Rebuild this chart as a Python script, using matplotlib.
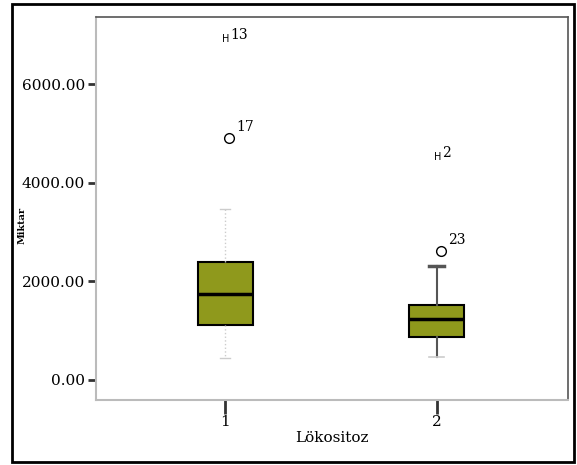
import matplotlib
matplotlib.use("Agg")
import matplotlib.pyplot as plt
from matplotlib.patches import Rectangle

# values
groups = ["1", "2"]
q1 = [1115, 872]
med = [1745, 1237]
q3 = [2393, 1521]
whislo = [446, 466]
whishi = [3470, 2312]
outliers = [[4909], [2616]]
outlier_ids = [["17"], ["23"]]
extremes = [[6917], [4523]]
extreme_ids = [["13"], ["2"]]
yticks = [0, 2000, 4000, 6000]

plt.rcParams["font.family"] = ["DejaVu Serif"]

fig = plt.figure(figsize=(5.77, 4.65), dpi=100)
ax = fig.add_axes([96 / 577, 1 - 400 / 465, 472 / 577, 383 / 465])

# outer black frame
fig.patches.append(Rectangle((12 / 577, 1 - 462 / 465), 562 / 577, 458 / 465,
                             transform=fig.transFigure, fill=False,
                             edgecolor="black", linewidth=2))

pos = [1, 2]
stats = []
for i in range(2):
    stats.append(dict(med=med[i], q1=q1[i], q3=q3[i], whislo=whislo[i],
                      whishi=whishi[i], fliers=[]))

box_col = "#8f991c"
for i, p in enumerate(pos):
    if i == 0:
        wp = dict(color="#cccccc", linestyle=":", linewidth=1)
        cp = dict(color="#cccccc", linewidth=1)
    else:
        wp = dict(color="#555555", linewidth=1.5)
        cp = dict(color="#555555", linewidth=2.5)
    art = ax.bxp([stats[i]], positions=[p], widths=[0.26], patch_artist=True,
                 boxprops=dict(facecolor=box_col, edgecolor="black", linewidth=1.5),
                 medianprops=dict(color="black", linewidth=2.5),
                 whiskerprops=wp, capprops=cp, capwidths=[0.07 if i == 1 else 0.05],
                 manage_ticks=False)
    if i == 1:
        # lower cap is a faint grey one in the original
        art["caps"][0].set_color("#cccccc")
        art["caps"][0].set_linewidth(1.2)

for i, p in enumerate(pos):
    for v, lab in zip(outliers[i], outlier_ids[i]):
        ax.plot(p + 0.02, v, marker="o", markersize=7, markerfacecolor="white",
                markeredgecolor="black", linestyle="none")
        ax.annotate(lab, (p + 0.02, v), xytext=(5, 5), textcoords="offset points",
                    fontsize=10)
    for v, lab in zip(extremes[i], extreme_ids[i]):
        ax.text(p + 0.005, v, "H", fontsize=7, family="DejaVu Sans",
                ha="center", va="center")
        ax.annotate(lab, (p + 0.005, v), xytext=(3, 0), textcoords="offset points",
                    fontsize=10)

ax.set_xlim(0.39, 2.62)
ax.set_ylim(-406, 7363)
ax.set_yticks(yticks)
ax.set_yticklabels([f"{t:.2f}" for t in yticks], fontsize=11)
ax.set_xticks(pos)
ax.set_xticklabels(groups, fontsize=11)
ax.tick_params(axis="y", length=6, width=2, color="#333333", pad=2)
ax.tick_params(axis="x", length=10, width=2, color="#333333", pad=1)

for s in ["left", "bottom"]:
    ax.spines[s].set_color("#bbbbbb")
    ax.spines[s].set_linewidth(1.5)
for s in ["top", "right"]:
    ax.spines[s].set_color("#555555")
    ax.spines[s].set_linewidth(1.2)

ax.set_xlabel("Lökositoz", fontsize=11, labelpad=1)
ax.set_ylabel("Miktar", fontsize=7, fontweight="bold", va="center")
ax.yaxis.set_label_coords(-0.157, 0.457)

fig.savefig("out.png", dpi=100)
